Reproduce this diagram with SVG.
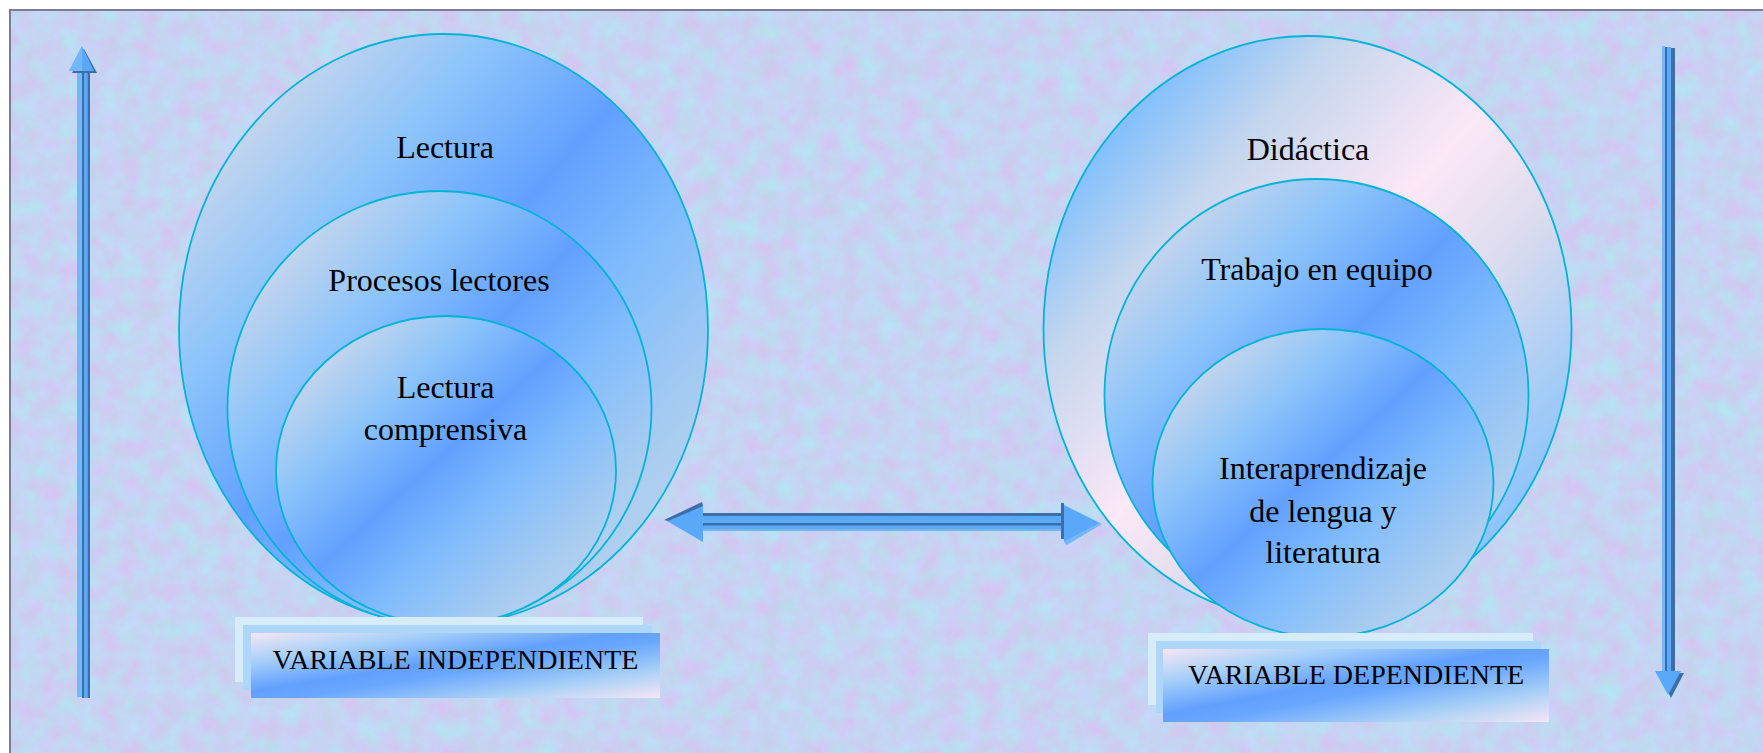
<svg xmlns="http://www.w3.org/2000/svg" width="1763" height="753" viewBox="0 0 1763 753">
<defs>
<style>
.lbl{font-family:"Liberation Serif","Times New Roman",serif;font-size:32px;fill:#000;text-anchor:middle}
.vlbl{font-family:"Liberation Serif","Times New Roman",serif;font-size:28px;fill:#000;text-anchor:middle}
.ell{stroke:#00b4d6;stroke-width:1.8}
.dk{fill:#3c6ea8}
.bl{fill:#5aa8fa}
.hl{fill:#74b6fa}
.boxA{fill:#d6ecf8}
.boxB{fill:#aed6fa}
.boxF{fill:url(#gBox)}
</style>
<linearGradient id="gBlue" x1="0" y1="0" x2="1" y2="1">
<stop offset="0" stop-color="#d4dcec"/>
<stop offset="0.15" stop-color="#c0d4ee"/>
<stop offset="0.3" stop-color="#8cc4fa"/>
<stop offset="0.47" stop-color="#62a0ff"/>
<stop offset="0.62" stop-color="#80bcfc"/>
<stop offset="0.8" stop-color="#a8ccf0"/>
<stop offset="1" stop-color="#c8d8ec"/>
</linearGradient>
<linearGradient id="gPink" x1="0" y1="0" x2="1" y2="1">
<stop offset="0" stop-color="#7ab8ff"/>
<stop offset="0.15" stop-color="#84c0fc"/>
<stop offset="0.28" stop-color="#c4d6ee"/>
<stop offset="0.48" stop-color="#fce8f6"/>
<stop offset="0.62" stop-color="#dcdcee"/>
<stop offset="0.78" stop-color="#a4ccf6"/>
<stop offset="0.9" stop-color="#80bffd"/>
<stop offset="1" stop-color="#84c0fc"/>
</linearGradient>
<linearGradient id="gBox" x1="0" y1="0" x2="1" y2="1">
<stop offset="0" stop-color="#f6e6f4"/>
<stop offset="0.22" stop-color="#a8d0f8"/>
<stop offset="0.45" stop-color="#62a0ff"/>
<stop offset="0.55" stop-color="#68a6ff"/>
<stop offset="0.78" stop-color="#a8d0f6"/>
<stop offset="1" stop-color="#f6e6f4"/>
</linearGradient>
<filter id="tex" x="0" y="0" width="100%" height="100%" color-interpolation-filters="sRGB">
<feTurbulence type="fractalNoise" baseFrequency="0.05" numOctaves="4" seed="7" result="n"/>
<feColorMatrix in="n" type="matrix" values="0.13 -0.1 0 0 0.76  -0.1 0.12 0 0 0.82  0.05 0.05 0 0 0.90  0 0 0 0 1"/>
</filter>
</defs>

<g id="background">
<rect width="1763" height="753" fill="#ffffff"/>
<rect x="10" y="10" width="1753" height="743" fill="#c9d7f4"/>
<rect x="11" y="11" width="1752" height="742" filter="url(#tex)"/>
<path d="M10 753 V10 H1763" fill="none" stroke="#7c7c94" stroke-width="2"/>
</g>

<g id="lectura">
<ellipse class="ell" cx="443.5" cy="329.5" rx="264.5" ry="295.5" fill="url(#gBlue)"/>
<text class="lbl" x="445" y="158">Lectura</text>
</g>
<g id="procesos-lectores">
<ellipse class="ell" cx="439.5" cy="408" rx="212" ry="217" fill="url(#gBlue)"/>
<text class="lbl" x="439" y="291">Procesos lectores</text>
</g>
<g id="lectura-comprensiva">
<ellipse class="ell" cx="446" cy="470.5" rx="170" ry="154.5" fill="url(#gBlue)"/>
<text class="lbl" x="445.5" y="397.5">Lectura</text>
<text class="lbl" x="445.5" y="440">comprensiva</text>
</g>

<g id="didactica">
<ellipse class="ell" cx="1307.5" cy="329" rx="264" ry="293" fill="url(#gPink)"/>
<text class="lbl" x="1308" y="160">Didáctica</text>
</g>
<g id="trabajo-en-equipo">
<ellipse class="ell" cx="1316.5" cy="395" rx="212" ry="216" fill="url(#gBlue)"/>
<text class="lbl" x="1317" y="280">Trabajo en equipo</text>
</g>
<g id="interaprendizaje">
<ellipse class="ell" cx="1323" cy="483" rx="170.5" ry="154" fill="url(#gBlue)"/>
<text class="lbl" x="1323" y="479">Interaprendizaje</text>
<text class="lbl" x="1323" y="522">de lengua y</text>
<text class="lbl" x="1323" y="563">literatura</text>
</g>

<g id="variable-independiente">
<rect class="boxA" x="235" y="617" width="408" height="65"/>
<rect class="boxB" x="243" y="625" width="409" height="65"/>
<rect class="boxF" x="251" y="633" width="409" height="65"/>
<text class="vlbl" x="455.5" y="669">VARIABLE INDEPENDIENTE</text>
</g>
<g id="variable-dependiente">
<rect class="boxA" x="1148" y="633" width="385" height="72"/>
<rect class="boxB" x="1156" y="641" width="385" height="72"/>
<rect class="boxF" x="1163" y="649" width="386" height="73"/>
<text class="vlbl" x="1356" y="684">VARIABLE DEPENDIENTE</text>
</g>

<g id="connectors">
<g id="arrow-up">
<rect class="hl" x="77" y="70" width="5" height="627"/>
<rect class="dk" x="82" y="72" width="2" height="626"/>
<rect class="bl" x="84" y="72" width="3.5" height="626"/>
<rect class="dk" x="87.5" y="72" width="2.5" height="626"/>
<polygon class="dk" points="72,73 84,49 97,73"/>
<polygon class="bl" points="69,71 82,46 94,71"/>
<polygon class="hl" points="69,71 82,46 82,71"/>
</g>
<g id="arrow-down">
<rect class="hl" x="1662" y="46" width="3" height="626"/>
<rect class="dk" x="1665" y="47" width="2" height="626"/>
<rect class="bl" x="1667" y="47" width="4" height="626"/>
<rect class="dk" x="1671" y="48" width="4" height="625"/>
<polygon class="dk" points="1659,673 1684,673 1671,698"/>
<polygon class="bl" points="1655,671 1681,671 1668,695"/>
</g>
<g id="arrow-both">
<rect class="bl" x="703" y="513" width="360" height="18"/>
<rect class="dk" x="703" y="513" width="360" height="3"/>
<rect class="dk" x="703" y="523" width="360" height="2.5"/>
<rect class="hl" x="703" y="529" width="360" height="2"/>
<polygon class="bl" points="667,521 703,504 703,542"/>
<polygon class="dk" points="664,520 702,502 703,506 668,521"/>
<rect class="dk" x="1061" y="503" width="3" height="36"/>
<polygon class="bl" points="1064,505 1100,523 1064,542"/>
<polygon class="hl" points="1064,542 1100,523 1102,524 1067,545"/>
</g>
</g>
</svg>
